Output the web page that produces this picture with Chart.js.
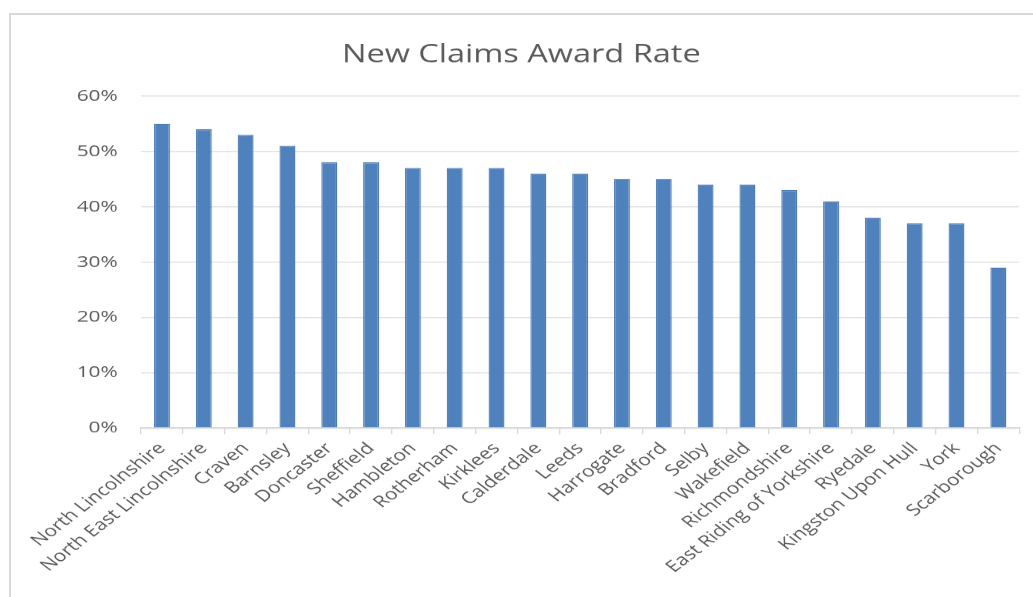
<!DOCTYPE html>
<html>
<head>
<meta charset="utf-8">
<script src="https://cdn.jsdelivr.net/npm/chart.js@4"></script>
<style>
  html, body { margin: 0; padding: 0; background: #fff; overflow: hidden; }
  #page { position: relative; width: 1033px; height: 597px; }
  #frame {
    position: absolute; left: 9px; top: 13px; width: 1040px; height: 600px;
    border: 2px solid #d9d9d9; box-sizing: border-box;
  }
  /* the reference picture is stretched sideways, so the chart is drawn narrow and widened */
  #stretch {
    position: absolute; left: 0; top: 0; width: 795px; height: 597px;
    transform: scaleX(1.2994); transform-origin: 0 0;
  }
</style>
</head>
<body>
<div id="page">
  <div id="frame"></div>
  <div id="stretch">
    <canvas id="resultChart" width="795" height="597"></canvas>
  </div>
</div>
<script>
const areas = ['North Lincolnshire', 'North East Lincolnshire', 'Craven', 'Barnsley', 'Doncaster',
    'Sheffield', 'Hambleton', 'Rotherham', 'Kirklees', 'Calderdale', 'Leeds', 'Harrogate',
    'Bradford', 'Selby', 'Wakefield', 'Richmondshire', 'East Riding of Yorkshire', 'Ryedale',
    'Kingston Upon Hull', 'York', 'Scarborough'];
const awardRate = [55, 54, 53, 51, 48, 48, 47, 47, 47, 46, 46, 45, 45, 44, 44, 43, 41, 38, 37, 37, 29];
const yTicks = [0, 10, 20, 30, 40, 50, 60];

const textGrey = '#595959';

const ctx = document.getElementById('resultChart').getContext('2d');
new Chart(ctx, {
    type: 'bar',
    data: {
        labels: areas,
        datasets: [{
            label: 'New Claims Award Rate',
            data: awardRate,
            backgroundColor: '#4f81bd',
            borderColor: '#4a7ab5',
            borderWidth: 1,
            categoryPercentage: 1,
            barPercentage: 0.38
        }]
    },
    options: {
        responsive: false,
        animation: false,
        devicePixelRatio: 1.3,
        layout: { padding: { top: 40, right: 11, left: 18, bottom: 0 } },
        plugins: {
            legend: { display: false },
            tooltip: { enabled: false },
            title: {
                display: true,
                text: 'New Claims Award Rate',
                color: textGrey,
                font: { family: 'Open Sans', size: 25, weight: 'normal' },
                padding: { top: 0, bottom: 26 }
            }
        },
        scales: {
            y: {
                min: 0,
                max: 60,
                afterBuildTicks: (scale) => { scale.ticks = yTicks.map(v => ({ value: v })); },
                afterFit: (scale) => { scale.width = 90.5; },
                ticks: {
                    color: textGrey,
                    padding: 18,
                    font: { family: 'Open Sans', size: 16 },
                    callback: (v) => v + '%'
                },
                grid: { color: '#e0e0e0', drawTicks: false, lineWidth: 1.2 },
                border: { display: false }
            },
            x: {
                afterFit: (scale) => { scale.height = 169; },
                ticks: {
                    color: textGrey,
                    minRotation: 45,
                    maxRotation: 45,
                    autoSkip: false,
                    padding: 5,
                    font: { family: 'Open Sans', size: 16 }
                },
                grid: { display: true, drawOnChartArea: false, drawTicks: true, tickLength: 6, color: '#d9d9d9', offset: true },
                border: { display: true, color: '#d9d9d9', width: 1.5 }
            }
        }
    }
});
</script>
</body>
</html>
